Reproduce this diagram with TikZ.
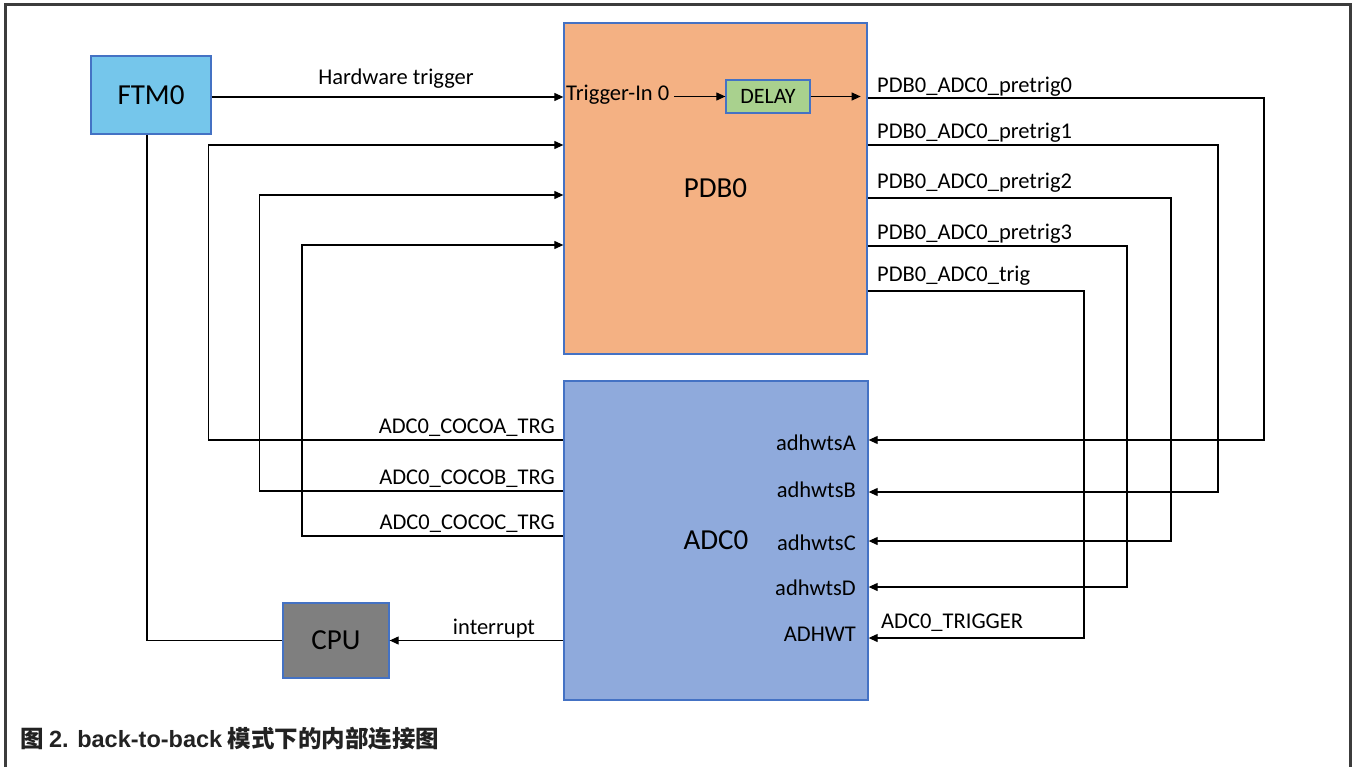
\documentclass[tikz,border=0pt]{standalone}
\usepackage{fontspec}
\setmainfont{Carlito}
\newfontfamily\capfont{Liberation Sans}
\newfontfamily\cjk{Noto Sans CJK SC}
\usetikzlibrary{arrows.meta}
\definecolor{ftmc}{HTML}{75C6EB}
\definecolor{pdbc}{HTML}{F4B183}
\definecolor{delc}{HTML}{A9D18E}
\definecolor{adcc}{HTML}{8FAADC}
\definecolor{cpuc}{HTML}{7F7F7F}
\definecolor{bordc}{HTML}{4472C4}
\definecolor{framec}{HTML}{3C3C3C}
\definecolor{capc}{HTML}{222222}
\begin{document}
\begin{tikzpicture}[x=1pt,y=-1pt,
  box/.style={draw=bordc,line width=1.3pt,inner sep=0pt,font=\fontsize{29}{33}\selectfont},
  lbl/.style={inner sep=0pt,font=\fontsize{22.5}{26}\selectfont},
  conn/.style={line width=1.1pt,draw=black},
  arr/.style={conn,-{Triangle[length=9pt,width=8pt]}}]
\useasboundingbox (0,0) rectangle (1352,767);
% frame
\draw[line width=3pt,color=framec] (5,767) -- (5,4.5) -- (1350.5,4.5) -- (1350.5,767);
% blocks
\node[box,fill=ftmc,minimum width=120pt,minimum height=78pt] (FTM0) at (151,95) {FTM0};
\node[box,fill=pdbc,minimum width=303pt,minimum height=331pt] (PDB0) at (715.5,188.5) {PDB0};
\node[box,fill=delc,minimum width=84pt,minimum height=33pt,font=\fontsize{22}{26}\selectfont] (DELAY) at (768,96.5) {DELAY};
\node[box,fill=adcc,minimum width=304pt,minimum height=319pt] (ADC0) at (716,540.5) {ADC0};
\node[box,fill=cpuc,minimum width=106pt,minimum height=75pt] (CPU) at (336,640.5) {CPU};
% labels
\node[lbl,anchor=base] (hw) at (396,85) {Hardware trigger};
\node[lbl,anchor=base west] (tin) at (566,101) {Trigger-In 0};
\node[lbl,anchor=base west] (p0) at (877,93) {PDB0\_ADC0\_pretrig0};
\node[lbl,anchor=base west] (p1) at (877,139) {PDB0\_ADC0\_pretrig1};
\node[lbl,anchor=base west] (p2) at (877,189) {PDB0\_ADC0\_pretrig2};
\node[lbl,anchor=base west] (p3) at (877,240) {PDB0\_ADC0\_pretrig3};
\node[lbl,anchor=base west] (p4) at (877,282) {PDB0\_ADC0\_trig};
\node[lbl,anchor=base east] (aA) at (856,450) {adhwtsA};
\node[lbl,anchor=base east] (aB) at (856,497) {adhwtsB};
\node[lbl,anchor=base east] (aC) at (856,550) {adhwtsC};
\node[lbl,anchor=base east] (aD) at (856,595) {adhwtsD};
\node[lbl,anchor=base east] (aW) at (856,641) {ADHWT};
\node[lbl,anchor=base west] (atr) at (881,628) {ADC0\_TRIGGER};
\node[lbl,anchor=base east] (cA) at (555,433) {ADC0\_COCOA\_TRG};
\node[lbl,anchor=base east] (cB) at (555,484) {ADC0\_COCOB\_TRG};
\node[lbl,anchor=base east] (cC) at (555,529) {ADC0\_COCOC\_TRG};
\node[lbl,anchor=base] (intr) at (494,634) {interrupt};
% caption
\node[anchor=base west,inner sep=0pt,text=capc,font=\fontsize{23.5}{27}\selectfont\bfseries] (cap) at (20,747)
  {{\cjk 图} {\capfont 2. back-to-back} {\cjk 模式下的内部连接图}};
% coordinates
\coordinate (hwrow) at (0,97);
\coordinate (tinE) at ([xshift=5pt]tin.east);
\coordinate (dEnd) at ([xshift=-7pt]PDB0.east |- DELAY.east);
\coordinate (k0) at (1264,98);  \coordinate (k0b) at (1264,440);
\coordinate (k1) at (1218,145); \coordinate (k1b) at (1218,492);
\coordinate (k2) at (1171,198); \coordinate (k2b) at (1171,541);
\coordinate (k3) at (1127,246); \coordinate (k3b) at (1127,587);
\coordinate (k4) at (1084,291); \coordinate (k4b) at (1084,638);
\coordinate (m0) at (208.5,440); \coordinate (m0b) at (208.5,145);
\coordinate (m1) at (259.5,491); \coordinate (m1b) at (259.5,195);
\coordinate (m2) at (302,536);   \coordinate (m2b) at (302,245);
% connectors
\draw[arr] (FTM0.east |- hwrow) -- (PDB0.west |- hwrow);
\draw[arr] (tinE |- DELAY.west) -- (DELAY.west);
\draw[arr] (DELAY.east) -- (dEnd);
\draw[arr] (PDB0.east |- k0) -- (k0) -- (k0b) -- (ADC0.east |- k0b);
\draw[arr] (PDB0.east |- k1) -- (k1) -- (k1b) -- (ADC0.east |- k1b);
\draw[arr] (PDB0.east |- k2) -- (k2) -- (k2b) -- (ADC0.east |- k2b);
\draw[arr] (PDB0.east |- k3) -- (k3) -- (k3b) -- (ADC0.east |- k3b);
\draw[arr] (PDB0.east |- k4) -- (k4) -- (k4b) -- (ADC0.east |- k4b);
\draw[arr] (ADC0.west |- m0) -- (m0) -- (m0b) -- (PDB0.west |- m0b);
\draw[arr] (ADC0.west |- m1) -- (m1) -- (m1b) -- (PDB0.west |- m1b);
\draw[arr] (ADC0.west |- m2) -- (m2) -- (m2b) -- (PDB0.west |- m2b);
\draw[conn] ([xshift=-4pt]FTM0.south) |- (CPU.west);
\draw[arr] (ADC0.west |- CPU.east) -- (CPU.east);
\end{tikzpicture}
\end{document}
